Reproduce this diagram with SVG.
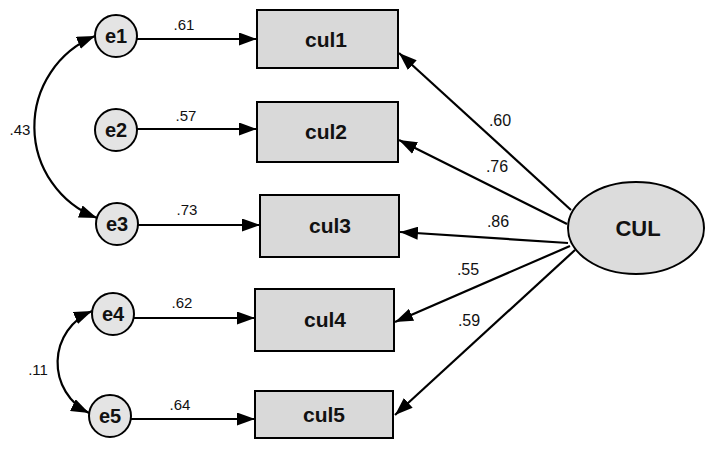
<svg xmlns="http://www.w3.org/2000/svg" width="705" height="457" viewBox="0 0 705 457">
<style>
.box{fill:#d9d9d9;stroke:#000;stroke-width:2}
.err{fill:#e4e4e4;stroke:#000;stroke-width:2}
.lat{fill:#dcdcdc;stroke:#000;stroke-width:2}
.ln{fill:none;stroke:#000;stroke-width:2.2;marker-end:url(#ah)}
.cov{fill:none;stroke:#000;stroke-width:2.2;marker-start:url(#ah);marker-end:url(#ah)}
.nm{font-family:"Liberation Sans",Arial,sans-serif;font-weight:bold;font-size:21px;text-anchor:middle;fill:#111}
.en{font-family:"Liberation Sans",Arial,sans-serif;font-weight:bold;font-size:20px;text-anchor:middle;fill:#111}
.lb{font-family:"Liberation Sans",Arial,sans-serif;font-size:15px;text-anchor:middle;fill:#111}
.lr{font-family:"Liberation Sans",Arial,sans-serif;font-size:16px;text-anchor:middle;fill:#111}
</style>
<defs>
<marker id="ah" markerUnits="userSpaceOnUse" markerWidth="19" markerHeight="13" refX="18" refY="6.5" orient="auto-start-reverse">
<path d="M0,0 L18,6.5 L0,13 z" fill="#000"/>
</marker>
</defs>
<g id="connectors">
<line class="ln" x1="137" y1="39" x2="257" y2="39"/>
<line class="ln" x1="137" y1="129" x2="257" y2="129"/>
<line class="ln" x1="138" y1="225" x2="260" y2="225"/>
<line class="ln" x1="134" y1="318" x2="255" y2="318"/>
<line class="ln" x1="131" y1="419" x2="255" y2="419"/>
<line class="ln" x1="571" y1="210" x2="399" y2="53"/>
<line class="ln" x1="567" y1="224" x2="399" y2="140"/>
<line class="ln" x1="568" y1="243" x2="400" y2="232"/>
<line class="ln" x1="570" y1="246" x2="395" y2="322"/>
<line class="ln" x1="575" y1="250" x2="395" y2="415"/>
<path class="cov" d="M95,36 A98,98 0 0 0 97,218"/>
<path class="cov" d="M92,311 A56,56 0 0 0 89,413"/>
<text class="lb" x="184" y="30">.61</text>
<text class="lb" x="186" y="121">.57</text>
<text class="lb" x="187" y="215">.73</text>
<text class="lb" x="182" y="308">.62</text>
<text class="lb" x="180" y="410">.64</text>
<text class="lb" x="20" y="135">.43</text>
<text class="lb" x="38" y="375">.11</text>
<text class="lr" x="500" y="126">.60</text>
<text class="lr" x="497" y="172">.76</text>
<text class="lr" x="498" y="227">.86</text>
<text class="lr" x="468" y="275">.55</text>
<text class="lr" x="469" y="326">.59</text>
</g>
<g id="e1"><circle class="err" cx="116" cy="36" r="21"/><text class="en" x="116" y="43">e1</text></g>
<g id="e2"><circle class="err" cx="116" cy="130" r="21"/><text class="en" x="116" y="137">e2</text></g>
<g id="e3"><circle class="err" cx="117" cy="224" r="21"/><text class="en" x="117" y="231">e3</text></g>
<g id="e4"><circle class="err" cx="113" cy="314" r="21"/><text class="en" x="113" y="321">e4</text></g>
<g id="e5"><circle class="err" cx="110" cy="416" r="21"/><text class="en" x="110" y="423">e5</text></g>
<g id="cul1"><rect class="box" x="257" y="10" width="141" height="58"/><text class="nm" x="326" y="47">cul1</text></g>
<g id="cul2"><rect class="box" x="257" y="102" width="141" height="60"/><text class="nm" x="326" y="139">cul2</text></g>
<g id="cul3"><rect class="box" x="260" y="195" width="139" height="62"/><text class="nm" x="330" y="233">cul3</text></g>
<g id="cul4"><rect class="box" x="255" y="289" width="139" height="62"/><text class="nm" x="325" y="327">cul4</text></g>
<g id="cul5"><rect class="box" x="255" y="391" width="138" height="47"/><text class="nm" x="324" y="422">cul5</text></g>
<g id="CUL"><ellipse class="lat" cx="636" cy="228" rx="68" ry="46"/><text class="nm" x="638" y="236" style="font-size:22px">CUL</text></g>
</svg>
